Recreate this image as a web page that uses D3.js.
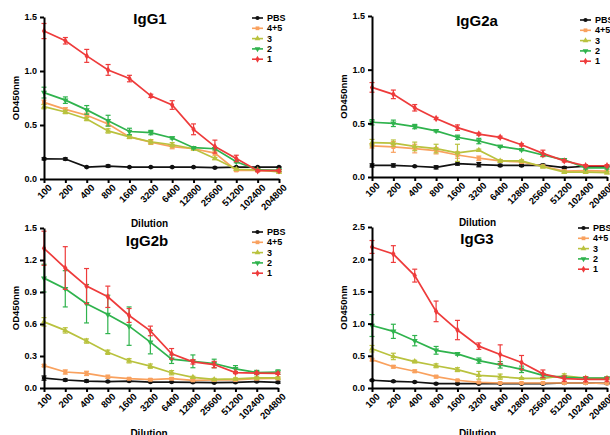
<!DOCTYPE html>
<html lang="en">
<head>
  <meta charset="UTF-8">
  <title>IgG subclass titration</title>
  <script src="https://d3js.org/d3.v7.min.js"></script>
  <style>
    body { margin: 0; background: #fff; }
    svg { display: block; font-family: "Liberation Sans", Arial, sans-serif; }
    .axis text { font-size: 9px; font-weight: bold; fill: #000; }
    .axis.x text { font-size: 9.5px; }
    .axis path, .axis line { stroke: #000; stroke-width: 2; }
  </style>
</head>
<body>
  <svg width="610" height="435"></svg>
  <script>
  // dilution steps, shared by all panels
  var dilutions = ["100", "200", "400", "800", "1600", "3200", "6400", "12800", "25600", "51200", "102400", "204800"];
  var groups = ["PBS", "4+5", "3", "2", "1"];
  var colors = ["#111111", "#f9a15e", "#b9c23e", "#2fb34d", "#ee3b3b"];
  var symbols = [d3.symbolCircle, d3.symbolSquare, d3.symbolTriangle, d3.symbolTriangle, d3.symbolDiamond];

  // mean OD450 per group (rows follow `groups`)
  var igg1Mean = [
    [0.187, 0.185, 0.11, 0.12, 0.11, 0.11, 0.11, 0.11, 0.105, 0.11, 0.11, 0.11],
    [0.71, 0.645, 0.59, 0.51, 0.39, 0.34, 0.30, 0.28, 0.24, 0.08, 0.08, 0.077],
    [0.67, 0.62, 0.555, 0.445, 0.39, 0.345, 0.317, 0.28, 0.19, 0.09, 0.085, 0.065],
    [0.80, 0.73, 0.64, 0.54, 0.44, 0.43, 0.38, 0.29, 0.28, 0.16, 0.085, 0.08],
    [1.37, 1.28, 1.14, 1.01, 0.93, 0.77, 0.685, 0.46, 0.30, 0.19, 0.077, 0.077]
  ];
  var igg1Err = [
    [0.01, 0.01, 0.005, 0.01, 0.005, 0.005, 0.005, 0.005, 0.005, 0.005, 0.005, 0.005],
    [0.02, 0.015, 0.02, 0.02, 0.015, 0.02, 0.02, 0.01, 0.02, 0.01, 0.01, 0.01],
    [0.02, 0.015, 0.015, 0.02, 0.015, 0.02, 0.02, 0.01, 0.01, 0.01, 0.01, 0.01],
    [0.05, 0.03, 0.04, 0.05, 0.03, 0.02, 0.01, 0.01, 0.01, 0.01, 0.01, 0.01],
    [0.07, 0.03, 0.06, 0.05, 0.03, 0.015, 0.04, 0.05, 0.06, 0.03, 0.01, 0.01]
  ];

  var igg2aMean = [
    [0.108, 0.108, 0.10, 0.09, 0.125, 0.115, 0.108, 0.108, 0.11, 0.087, 0.10, 0.10],
    [0.29, 0.28, 0.265, 0.245, 0.205, 0.175, 0.15, 0.14, 0.10, 0.055, 0.06, 0.055],
    [0.32, 0.315, 0.285, 0.265, 0.225, 0.25, 0.15, 0.15, 0.095, 0.045, 0.045, 0.04],
    [0.51, 0.50, 0.47, 0.43, 0.37, 0.335, 0.285, 0.255, 0.205, 0.16, 0.085, 0.085],
    [0.835, 0.77, 0.645, 0.545, 0.46, 0.40, 0.37, 0.30, 0.22, 0.15, 0.105, 0.105]
  ];
  var igg2aErr = [
    [0.015, 0.015, 0.005, 0.015, 0.015, 0.02, 0.01, 0.01, 0.01, 0.01, 0.005, 0.005],
    [0.02, 0.05, 0.04, 0.03, 0.03, 0.02, 0.01, 0.01, 0.01, 0.01, 0.01, 0.01],
    [0.03, 0.03, 0.04, 0.04, 0.08, 0.01, 0.01, 0.01, 0.01, 0.01, 0.01, 0.01],
    [0.025, 0.03, 0.02, 0.01, 0.02, 0.025, 0.01, 0.01, 0.01, 0.01, 0.01, 0.01],
    [0.045, 0.04, 0.03, 0.01, 0.025, 0.01, 0.01, 0.01, 0.03, 0.01, 0.01, 0.01]
  ];

  var igg2bMean = [
    [0.093, 0.075, 0.065, 0.06, 0.065, 0.056, 0.056, 0.053, 0.05, 0.053, 0.06, 0.053],
    [0.21, 0.15, 0.137, 0.105, 0.087, 0.078, 0.087, 0.072, 0.075, 0.075, 0.087, 0.09],
    [0.62, 0.54, 0.44, 0.335, 0.255, 0.205, 0.143, 0.10, 0.08, 0.085, 0.095, 0.095],
    [1.03, 0.93, 0.79, 0.69, 0.58, 0.43, 0.27, 0.25, 0.23, 0.18, 0.145, 0.15],
    [1.31, 1.125, 0.955, 0.855, 0.68, 0.535, 0.32, 0.245, 0.22, 0.145, 0.14, 0.137]
  ];
  var igg2bErr = [
    [0.02, 0.01, 0.01, 0.005, 0.005, 0.005, 0.005, 0.005, 0.005, 0.005, 0.005, 0.01],
    [0.01, 0.02, 0.02, 0.015, 0.01, 0.01, 0.01, 0.01, 0.01, 0.01, 0.01, 0.01],
    [0.04, 0.025, 0.02, 0.02, 0.02, 0.02, 0.02, 0.01, 0.01, 0.01, 0.01, 0.01],
    [0.13, 0.17, 0.18, 0.18, 0.18, 0.11, 0.04, 0.06, 0.04, 0.03, 0.02, 0.02],
    [0.16, 0.2, 0.165, 0.1, 0.065, 0.045, 0.05, 0.02, 0.03, 0.01, 0.01, 0.01]
  ];

  var igg3Mean = [
    [0.12, 0.104, 0.093, 0.067, 0.067, 0.067, 0.067, 0.067, 0.067, 0.078, 0.078, 0.072],
    [0.44, 0.33, 0.26, 0.176, 0.12, 0.088, 0.078, 0.078, 0.078, 0.078, 0.078, 0.072],
    [0.61, 0.49, 0.41, 0.345, 0.285, 0.197, 0.176, 0.15, 0.15, 0.19, 0.155, 0.15],
    [0.97, 0.88, 0.735, 0.585, 0.53, 0.425, 0.36, 0.29, 0.197, 0.165, 0.155, 0.155],
    [2.19, 2.08, 1.745, 1.19, 0.90, 0.65, 0.52, 0.395, 0.22, 0.145, 0.135, 0.135]
  ];
  var igg3Err = [
    [0.01, 0.01, 0.01, 0.01, 0.01, 0.01, 0.01, 0.01, 0.01, 0.01, 0.01, 0.01],
    [0.02, 0.02, 0.02, 0.02, 0.01, 0.01, 0.01, 0.01, 0.01, 0.01, 0.01, 0.01],
    [0.05, 0.05, 0.02, 0.03, 0.03, 0.06, 0.04, 0.01, 0.01, 0.03, 0.01, 0.01],
    [0.17, 0.11, 0.08, 0.06, 0.02, 0.04, 0.05, 0.05, 0.03, 0.01, 0.01, 0.01],
    [0.1, 0.13, 0.1, 0.16, 0.15, 0.05, 0.15, 0.11, 0.06, 0.04, 0.04, 0.03]
  ];

  var yTicks1 = [0, 0.5, 1.0, 1.5];
  var yTicks2b = [0, 0.3, 0.6, 0.9, 1.2, 1.5];
  var yTicks3 = [0, 0.5, 1.0, 1.5, 2.0, 2.5];

  // layout of the four panels (pixel positions)
  var panels = [
    {title: "IgG1", mean: igg1Mean, err: igg1Err, ymax: 1.5, ticks: yTicks1,
     x0: 44, x1: 279, y0: 179, y1: 17, tx: 150, ty: 24, lx: 252, ly: 18, dy: 227},
    {title: "IgG2a", mean: igg2aMean, err: igg2aErr, ymax: 1.5, ticks: yTicks1,
     x0: 372, x1: 607, y0: 177, y1: 16, tx: 477, ty: 26, lx: 580, ly: 20, dy: 226},
    {title: "IgG2b", mean: igg2bMean, err: igg2bErr, ymax: 1.5, ticks: yTicks2b,
     x0: 44, x1: 278, y0: 388, y1: 228, tx: 147, ty: 246, lx: 252, ly: 232, dy: 437},
    {title: "IgG3", mean: igg3Mean, err: igg3Err, ymax: 2.5, ticks: yTicks3,
     x0: 372, x1: 607, y0: 388, y1: 227, tx: 477, ty: 244, lx: 578, ly: 228, dy: 437}
  ];

  var svg = d3.select("svg");

  panels.forEach(function(p) {
    var g = svg.append("g");
    var x = d3.scalePoint().domain(dilutions).range([p.x0, p.x1]);
    var y = d3.scaleLinear().domain([0, p.ymax]).range([p.y0, p.y1]);

    // series: lines, error bars, markers
    p.mean.forEach(function(vals, i) {
      var pts = vals.map(function(v, j) { return {d: dilutions[j], v: v, e: p.err[i][j]}; });
      var s = g.append("g");
      s.append("path")
          .datum(pts)
          .attr("fill", "none")
          .attr("stroke", colors[i])
          .attr("stroke-width", 1.7)
          .attr("d", d3.line().x(function(d) { return x(d.d); }).y(function(d) { return y(d.v); }));

      var eb = s.selectAll(".eb").data(pts).enter().append("g")
          .attr("stroke", colors[i]).attr("stroke-width", 1.2);
      eb.append("line")
          .attr("x1", function(d) { return x(d.d); }).attr("x2", function(d) { return x(d.d); })
          .attr("y1", function(d) { return y(d.v - d.e); }).attr("y2", function(d) { return y(d.v + d.e); });
      eb.append("line")
          .attr("x1", function(d) { return x(d.d) - 2.5; }).attr("x2", function(d) { return x(d.d) + 2.5; })
          .attr("y1", function(d) { return y(d.v + d.e); }).attr("y2", function(d) { return y(d.v + d.e); });
      eb.append("line")
          .attr("x1", function(d) { return x(d.d) - 2.5; }).attr("x2", function(d) { return x(d.d) + 2.5; })
          .attr("y1", function(d) { return y(d.v - d.e); }).attr("y2", function(d) { return y(d.v - d.e); });

      s.selectAll(".pt").data(pts).enter().append("path")
          .attr("fill", colors[i])
          .attr("transform", function(d) {
            return "translate(" + x(d.d) + "," + y(d.v) + ")" + (i == 3 ? " rotate(180)" : "");
          })
          .attr("d", d3.symbol().type(symbols[i]).size(16));
    });

    // axes
    g.append("g")
        .attr("class", "axis x")
        .attr("transform", "translate(0," + p.y0 + ")")
        .call(d3.axisBottom(x).tickSize(4).tickSizeOuter(0))
        .selectAll("text")
        .attr("text-anchor", "end")
        .attr("dx", "-0.1em")
        .attr("dy", "0.55em")
        .attr("transform", "rotate(-45)");

    g.append("g")
        .attr("class", "axis")
        .attr("transform", "translate(" + p.x0 + ",0)")
        .call(d3.axisLeft(y).tickValues(p.ticks).tickSize(4).tickSizeOuter(0).tickFormat(d3.format(".1f")));

    g.append("text")
        .attr("x", p.tx).attr("y", p.ty)
        .attr("text-anchor", "middle")
        .style("font-size", "15px").style("font-weight", "bold")
        .text(p.title);

    g.append("text")
        .attr("transform", "translate(" + (p.x0 - 25) + "," + ((p.y0 + p.y1) / 2) + ") rotate(-90)")
        .attr("text-anchor", "middle")
        .style("font-size", "9.5px").style("font-weight", "bold")
        .text("OD450nm");

    g.append("text")
        .attr("x", (p.x0 + p.x1) / 2 - 12).attr("y", p.dy)
        .attr("text-anchor", "middle")
        .style("font-size", "10px").style("font-weight", "bold")
        .text("Dilution");

    // legend
    var lg = g.append("g").attr("transform", "translate(" + p.lx + "," + p.ly + ")");
    groups.forEach(function(name, i) {
      var row = lg.append("g").attr("transform", "translate(0," + (i * 10.3) + ")");
      row.append("line").attr("x1", 0).attr("x2", 11)
          .attr("stroke", colors[i]).attr("stroke-width", 1.6);
      row.append("path")
          .attr("fill", colors[i])
          .attr("transform", "translate(5.5,0)" + (i == 3 ? " rotate(180)" : ""))
          .attr("d", d3.symbol().type(symbols[i]).size(14));
      row.append("text")
          .attr("x", 15).attr("dy", "0.35em")
          .style("font-size", "9px").style("font-weight", "bold")
          .text(name);
    });
  });
  </script>
</body>
</html>
